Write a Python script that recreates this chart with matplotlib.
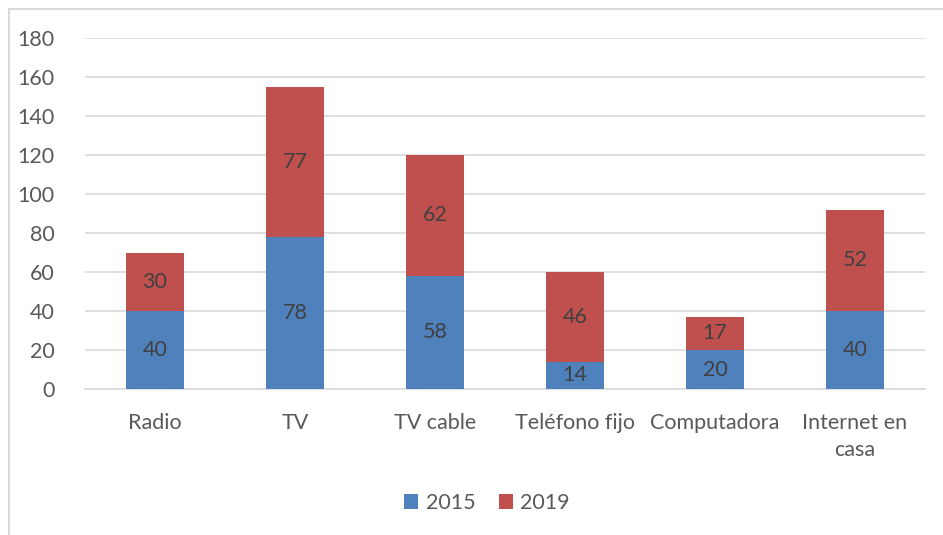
import matplotlib
matplotlib.use('Agg')
import matplotlib.pyplot as plt
import numpy as np

plt.rcParams['font.family'] = ['Lato', 'DejaVu Sans']

categories = ['Radio', 'TV', 'TV cable', 'Teléfono fijo', 'Computadora', 'Internet en\ncasa']
v2015 = [40, 78, 58, 14, 20, 40]
v2019 = [30, 77, 62, 46, 17, 52]
yticks = [0, 20, 40, 60, 80, 100, 120, 140, 160, 180]

blue = '#4F81BD'
red = '#C0504D'
txt = '#595959'

fig = plt.figure(figsize=(9.43, 5.35), dpi=100)
ax = fig.add_axes([85/943, 146/535, 840/943, 351/535])

# outer chart border (cut off on right and bottom)
fig.patches.append(plt.Rectangle((9/943, -0.1), 1.2, (535-9)/535 + 0.1,
                                 transform=fig.transFigure, fill=False,
                                 edgecolor='#D9D9D9', lw=1.5))

x = np.arange(len(categories))
b1 = ax.bar(x, v2015, 0.41, color=blue, label='2015', zorder=3)
b2 = ax.bar(x, v2019, 0.41, bottom=v2015, color=red, label='2019', zorder=3)
ax.bar_label(b1, label_type='center', fontsize=15.5, color='#404040')
ax.bar_label(b2, label_type='center', fontsize=15.5, color='#404040')

ax.set_xlim(-0.5, len(categories) - 0.5)
ax.set_ylim(0, 180)
ax.set_yticks(yticks)
ax.yaxis.grid(True, color='#D9D9D9', lw=1.2, zorder=0)
ax.set_axisbelow(True)
for s in ['top', 'right', 'left']:
    ax.spines[s].set_visible(False)
ax.spines['bottom'].set_color('#D9D9D9')
ax.spines['bottom'].set_linewidth(1.2)
ax.tick_params(length=0, labelsize=15.5, colors=txt)
ax.tick_params(axis='y', pad=22)
ax.set_xticks(x)
ax.set_xticklabels(categories, linespacing=1.45, va='top')
ax.tick_params(axis='x', pad=17)

fig.legend(handles=[b1, b2], labels=['2015', '2019'], loc='center',
           bbox_to_anchor=(487/943, (535-503)/535), ncol=2, frameon=False,
           fontsize=15.5, labelcolor=txt, handlelength=0.65, handleheight=0.65,
           columnspacing=1.1, handletextpad=0.35)

fig.savefig('out.png', dpi=100)
